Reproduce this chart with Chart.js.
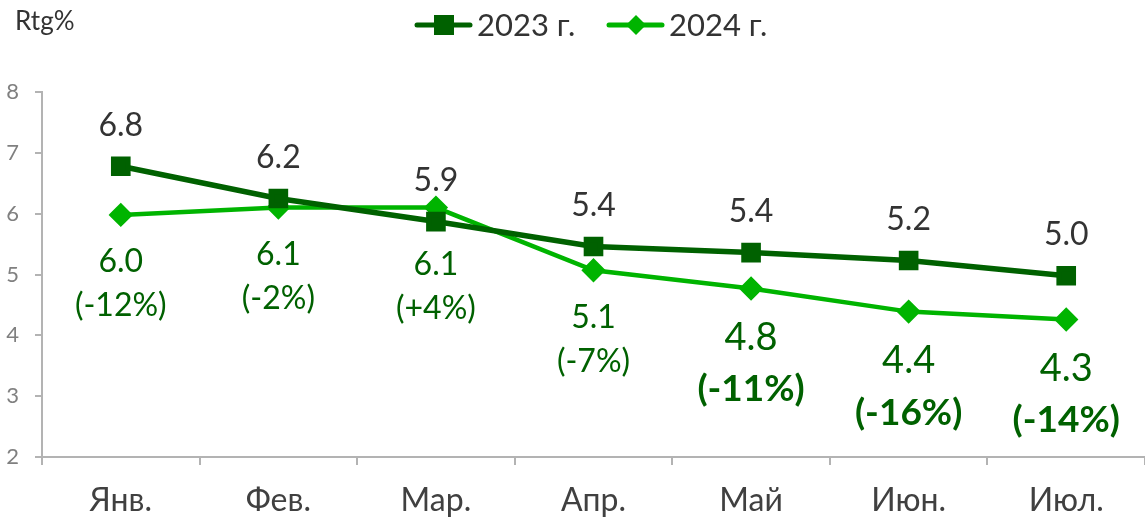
<!DOCTYPE html>
<html><head><meta charset="utf-8">
<script src="https://cdn.jsdelivr.net/npm/chart.js@4.4.1/dist/chart.umd.min.js"></script>
<style>html,body{margin:0;padding:0;background:#fff}#wrap{width:1145px;height:524px;position:relative}</style>
</head><body><div id="wrap"><canvas id="c" width="1145" height="524"></canvas></div>
<script>
const categories = ['Янв.', 'Фев.', 'Мар.', 'Апр.', 'Май', 'Июн.', 'Июл.'];
const series2023 = [6.78, 6.25, 5.87, 5.46, 5.36, 5.23, 4.98];
const series2024 = [5.98, 6.10, 6.10, 5.07, 4.77, 4.39, 4.26];
const labels2023 = ['6.8', '6.2', '5.9', '5.4', '5.4', '5.2', '5.0'];
const labels2024 = ['6.0', '6.1', '6.1', '5.1', '4.8', '4.4', '4.3'];
const changes2024 = ['(-12%)', '(-2%)', '(+4%)', '(-7%)', '(-11%)', '(-16%)', '(-14%)'];
const emphasis2024 = [false, false, false, false, true, true, true];
const yTicks = [2, 3, 4, 5, 6, 7, 8];
const legendNames = ['2023 г.', '2024 г.'];

const FONT = 'Lato, "Open Sans", sans-serif';
const C23 = '#006100', C24 = '#00b400', LBL = '#006100';

const labelPlugin = {
  id: 'labels',
  afterDatasetsDraw(chart) {
    const ctx = chart.ctx;
    ctx.save();
    ctx.textAlign = 'center';
    ctx.textBaseline = 'middle';
    const m0 = chart.getDatasetMeta(0), m1 = chart.getDatasetMeta(1);
    m0.data.forEach((p, i) => {
      ctx.font = '32px ' + FONT;
      ctx.fillStyle = '#333333';
      ctx.fillText(labels2023[i], p.x, p.y - 41);
    });
    m1.data.forEach((p, i) => {
      const big = emphasis2024[i];
      const extra = (i === 2) ? 10 : 0;
      ctx.fillStyle = LBL;
      ctx.font = (big ? '38px ' : '32px ') + FONT;
      const y1 = p.y + (big ? 49 : 47) + extra;
      ctx.fillText(labels2024[i], p.x, y1);
      ctx.font = (big ? 'bold 37px ' : '32px ') + FONT;
      ctx.fillText(changes2024[i], p.x, y1 + (big ? 52 : 44));
    });
    ctx.restore();
  },
  afterDraw(chart) {
    const ctx = chart.ctx;
    ctx.save();
    ctx.font = '26px ' + FONT;
    ctx.fillStyle = '#333333';
    ctx.textBaseline = 'alphabetic';
    ctx.textAlign = 'left';
    ctx.fillText('Rtg%', 15, 30);
    const items = [
      {x: 415, color: C23, style: 'rect', text: legendNames[0]},
      {x: 607, color: C24, style: 'rectRot', text: legendNames[1]}
    ];
    const ly = 25;
    items.forEach(it => {
      ctx.strokeStyle = it.color;
      ctx.lineWidth = 5;
      ctx.lineCap = 'round';
      ctx.beginPath(); ctx.moveTo(it.x + 2, ly); ctx.lineTo(it.x + 55, ly); ctx.stroke();
      ctx.fillStyle = it.color;
      const cx = it.x + 29;
      if (it.style === 'rect') {
        ctx.fillRect(cx - 10, ly - 10, 20, 20);
      } else {
        ctx.beginPath();
        ctx.moveTo(cx, ly - 10); ctx.lineTo(cx + 10, ly); ctx.lineTo(cx, ly + 10); ctx.lineTo(cx - 10, ly);
        ctx.closePath(); ctx.fill();
      }
      ctx.fillStyle = '#333333';
      ctx.font = '31px ' + FONT;
      ctx.textBaseline = 'middle';
      ctx.fillText(it.text, it.x + 62, ly + 1);
    });
    ctx.restore();
  }
};

new Chart(document.getElementById('c'), {
  type: 'line',
  data: {
    labels: categories,
    datasets: [
      {label: legendNames[0], data: series2023, borderColor: C23, backgroundColor: C23,
       borderWidth: 5.5, pointStyle: 'rect', pointRadius: 10, pointHoverRadius: 10, tension: 0},
      {label: legendNames[1], data: series2024, borderColor: C24, backgroundColor: C24,
       borderWidth: 4.5, pointStyle: 'rectRot', pointRadius: 9, pointHoverRadius: 9, tension: 0}
    ]
  },
  options: {
    responsive: false,
    animation: false,
    devicePixelRatio: 1,
    layout: {autoPadding: false, padding: {top: 92, right: 0, left: 0, bottom: 0}},
    plugins: {legend: {display: false}, tooltip: {enabled: false}},
    scales: {
      x: {
        offset: true,
        grid: {display: true, drawOnChartArea: false, offset: true, tickLength: 8, color: '#b3b3b3', lineWidth: 2},
        border: {display: true, color: '#b3b3b3', width: 2},
        ticks: {color: '#404040', font: {family: FONT, size: 32}, padding: 16, maxRotation: 0},
        afterFit(s) { s.height = 67; s.paddingLeft = 0; s.paddingRight = 0; }
      },
      y: {
        min: 2, max: 8,
        afterBuildTicks(s) { s.ticks = yTicks.map(v => ({value: v})); },
        grid: {display: true, drawOnChartArea: false, tickLength: 7, color: '#b3b3b3', lineWidth: 2},
        border: {display: true, color: '#b3b3b3', width: 2},
        ticks: {color: '#808080', font: {family: FONT, size: 22}, padding: 16},
        afterFit(s) { s.width = 42; s.paddingTop = 0; s.paddingBottom = 0; }
      }
    }
  },
  plugins: [labelPlugin]
});
</script></body></html>
